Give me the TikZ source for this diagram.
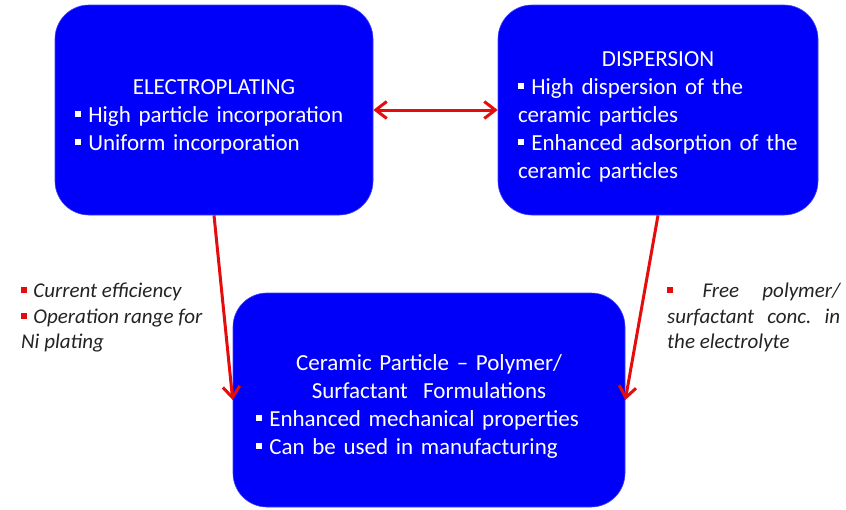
\documentclass[tikz,border=0pt]{standalone}
\usepackage{fontspec}
\setmainfont{Carlito}
\usetikzlibrary{arrows.meta}
\definecolor{boxblue}{RGB}{0,0,250}
\definecolor{arrowred}{RGB}{228,12,12}
\definecolor{notegray}{RGB}{35,35,35}
\newcommand{\sqbul}{\rule[0.22em]{0.28em}{0.28em}\hspace{0.3em}}
\newcommand{\redbul}{\textcolor{arrowred}{\sqbul}}
\newcommand{\toplift}{\rule{0pt}{28pt}}
\tikzset{
  stage/.style={
    rounded corners=34pt,
    fill=boxblue,
    draw=boxblue!75!white,
    line width=0.6pt,
    text=white,
    inner sep=0pt,
    font=\fontsize{23}{28}\selectfont
  },
  link/.style={
    draw=arrowred,
    line width=3pt,
    -{Straight Barb[length=11pt,width=17pt]}
  },
  both-link/.style={
    link,
    {Straight Barb[length=11pt,width=17pt]}-{Straight Barb[length=11pt,width=17pt]}
  },
  note/.style={
    inner sep=0pt,
    anchor=north west,
    text=notegray,
    align=left,
    font=\fontsize{21}{25.5}\selectfont\itshape\frenchspacing
  }
}

\begin{document}
\begin{tikzpicture}[x=1pt,y=-1pt]
  \useasboundingbox (0,0) rectangle (846,509);

  % the three stages
  \node[stage, minimum width=318pt, minimum height=210pt, text width=278pt] (elec) at (214,110)
    {{\centering\toplift ELECTROPLATING\par}\raggedright
     \sqbul High particle incorporation\\
     \sqbul Uniform incorporation};
  \node[stage, minimum width=320pt, minimum height=210pt, text width=280pt] (disp) at (658,110)
    {{\centering\toplift DISPERSION\par}\raggedright
     \sqbul High dispersion of the\\
     ceramic particles\\
     \sqbul Enhanced adsorption of the\\
     ceramic particles};
  \node[stage, minimum width=392pt, minimum height=214pt, text width=346pt] (form) at (429,400)
    {{\centering\toplift Ceramic Particle -- Polymer/\\
      Surfactant\ \ Formulations\par}\raggedright
     \sqbul Enhanced mechanical properties\\
     \sqbul Can be used in manufacturing};

  % side notes
  \node[note] (elecnote) at (21,283)
    {\redbul Current efficiency\\
     \redbul Operation range for\\
     Ni plating};
  \node[note] (dispnote) at (667,283)
    {\makebox[173pt][s]{\redbul\ Free polymer/}\\
     \makebox[173pt][s]{surfactant conc. in}\\
     the electrolyte};

  % connectors
  \draw[both-link] (elec.east) -- (disp.west);
  \draw[link] (elec.south) -- (form.west);
  \draw[link] (disp.south) -- (form.east);
\end{tikzpicture}
\end{document}
